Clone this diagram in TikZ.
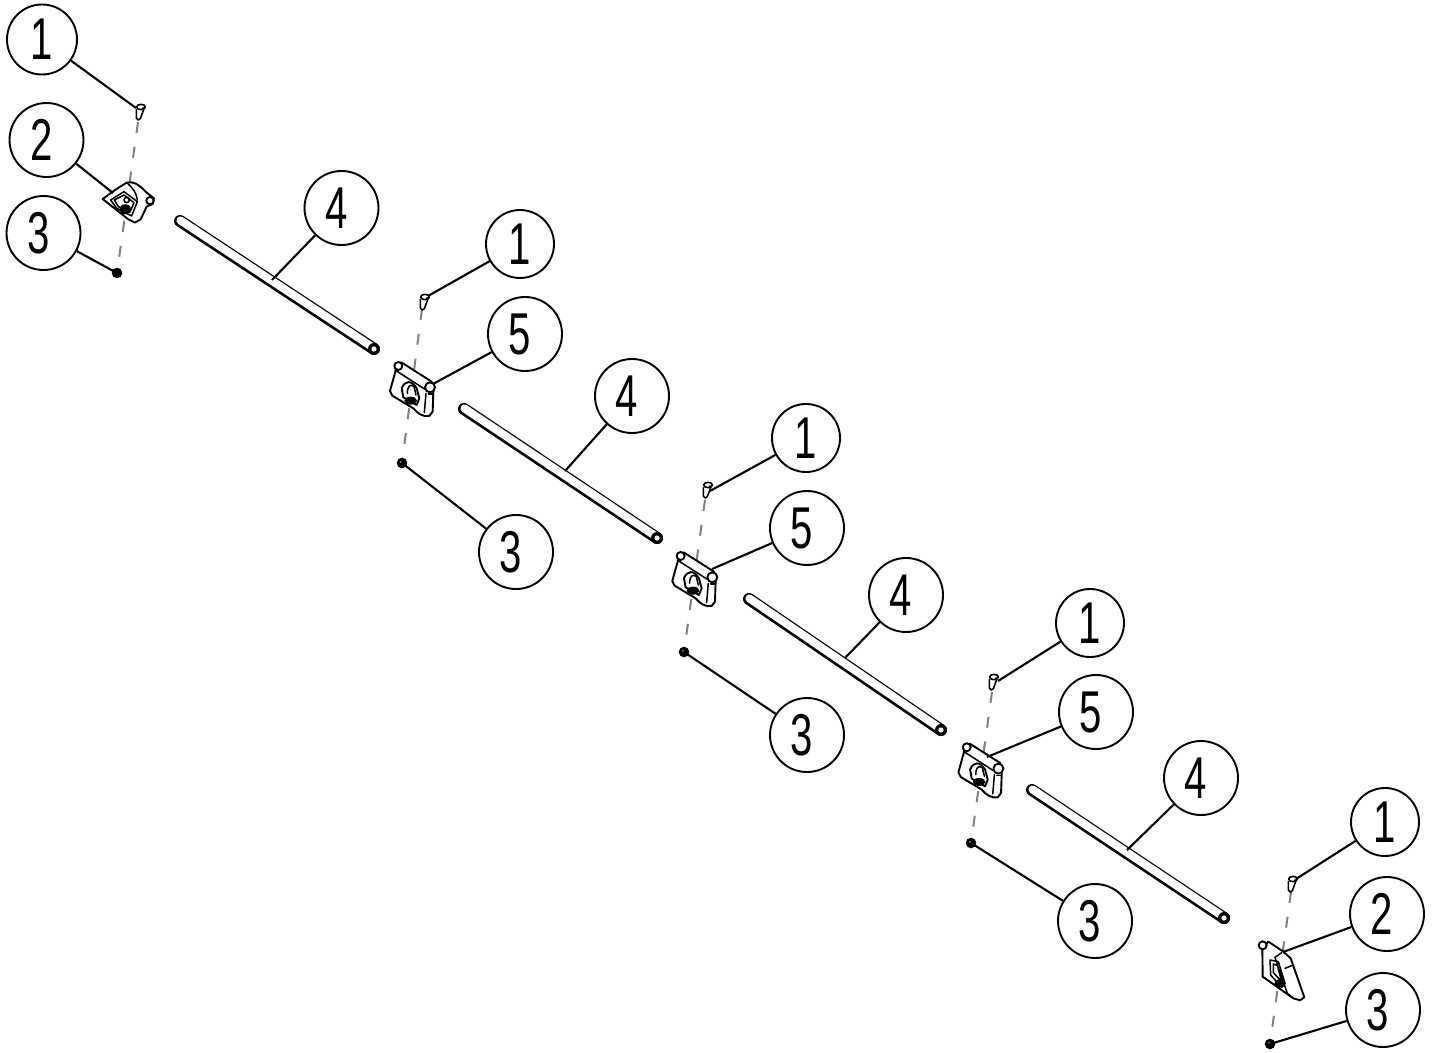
\documentclass[tikz,border=0pt]{standalone}
\usepackage{fontspec}
\setmainfont{Liberation Sans}
\tikzset{
  x=1pt,y=-1pt,
  balloon/.style={draw=black,line width=1.9pt,circle,fill=white,inner sep=0pt,minimum size=74pt,
    font=\fontsize{59}{59}\selectfont},
  leader/.style={draw=black,line width=2.1pt},
  axisline/.style={draw=black!50,line width=2pt,dash pattern=on 11pt off 14pt},
  partline/.style={draw=black,line width=1.9pt,line join=round,line cap=round,fill=white},
  thinpart/.style={draw=black,line width=1.5pt,line join=round,line cap=round},
  zoomed/.style={x=0.3333pt,y=-0.3333pt}
}
\newcommand{\dg}[1]{\raisebox{-2pt}{\scalebox{0.68}[1]{#1}}\kern 10pt}
\newcommand{\dgone}[1]{\raisebox{-2pt}{\scalebox{0.68}[1]{#1}}}
\newcommand{\rodpart}[2]{%
  \draw[line width=12pt,black,line cap=round] (#1) -- (#2);
  \draw[line width=8pt,white,line cap=round,transform canvas={xshift=0.4pt,yshift=0.6pt}] (#1) -- (#2);
  \fill[black] (#2) circle (6pt);
  \fill[white] (#2) circle (2.6pt);
}
\newcommand{\screwpart}[1]{%
  \begin{scope}[shift={(#1)},zoomed]
    \draw[partline,line width=1.6pt] (-14,8) -- (-14,33) .. controls (-12,41) and (-5,41) .. (-2,35) -- (8,8);
    \draw[partline,line width=1.6pt] (0,0) ellipse (13 and 8);
    \fill (6,4) circle (4);
  \end{scope}}
\newcommand{\nutpart}[1]{%
  \fill[black] (#1) circle (5.3pt);
  \fill[black!45] (#1) ++(-1.2,-1.2) circle (1pt);
}
\newcommand{\midbracket}[1]{%
  \begin{scope}[shift={(#1)},zoomed]
    \draw[partline] (108,268) -- (90,333) -- (97,347) -- (160,385) .. controls (172,400) and (190,412) .. (208,408) -- (218,395) -- (220,335) -- (215,305) -- (124,247) -- cycle;
    \draw[thinpart] (105,270) -- (195,328);
    \draw[thinpart] (198,340) -- (193,398);
    \draw[thinpart] (218,342) -- (205,342);
    \draw[partline] (125,325) .. controls (135,300) and (155,300) .. (170,325) -- (178,355) -- (170,375) -- (130,352) -- cycle;
    \draw[thinpart] (142,340) .. controls (142,318) and (152,310) .. (162,320) -- (168,345);
    \fill[black] (152,362) ellipse (19 and 12);
    \draw[partline] (115,258) circle (12);
    \draw[partline] (210,322) circle (15);
  \end{scope}}
\begin{document}
\begin{tikzpicture}
\useasboundingbox[fill=white] (0,0) rectangle (1434,1052);

% anchors of the leaders
\coordinate (sa) at (136,108); \coordinate (ba) at (113,193); \coordinate (na) at (117,273); \coordinate (ra) at (272,280);
\coordinate (sb) at (428,296); \coordinate (bb) at (433,384); \coordinate (nb) at (402,463); \coordinate (rb) at (565,471);
\coordinate (sc) at (710,491); \coordinate (bc) at (712,569); \coordinate (nc) at (684,652); \coordinate (rc) at (845,658);
\coordinate (sd) at (998,681); \coordinate (bd) at (987,757); \coordinate (nd) at (971,843); \coordinate (rd) at (1127,850);
\coordinate (se) at (1296,879); \coordinate (be) at (1283,952); \coordinate (ne) at (1270,1044);

% centre axes
\coordinate (ta) at (138,122); \coordinate (tb) at (422,309); \coordinate (tc) at (705,500);
\coordinate (td) at (992,692); \coordinate (te) at (1291,892);
\draw[axisline] (ta) -- (na);
\draw[axisline] (tb) -- (nb);
\draw[axisline] (tc) -- (nc);
\draw[axisline] (td) -- (nd);
\draw[axisline] (te) -- (ne);

% rods
\coordinate (r1a) at (180,221); \coordinate (r1b) at (374,349);
\coordinate (r2a) at (464,409); \coordinate (r2b) at (657,538);
\coordinate (r3a) at (749,599); \coordinate (r3b) at (941,730);
\coordinate (r4a) at (1032,790); \coordinate (r4b) at (1224,918);
\rodpart{r1a}{r1b}
\rodpart{r2a}{r2b}
\rodpart{r3a}{r3b}
\rodpart{r4a}{r4b}

% screws and nuts
\screwpart{141,107}
\screwpart{425,297}
\screwpart{708,485}
\screwpart{994,677}
\screwpart{1293,879}
\nutpart{na}
\nutpart{nb}
\nutpart{nc}
\nutpart{nd}
\nutpart{ne}

% end bracket, left
\begin{scope}[zoomed]
  \draw[partline] (308,597) -- (345,570) -- (380,548) .. controls (400,543) and (415,552) .. (440,578) -- (462,595) -- (458,612) -- (440,620) -- (422,658) -- (405,668) -- (385,658) -- cycle;
  \draw[thinpart] (332,600) -- (372,575) -- (412,605) -- (395,648) -- (350,625) -- cycle;
  \draw[thinpart] (343,600) -- (372,585) -- (402,608) -- (390,636) -- (355,620) -- cycle;
  \draw[thinpart] (380,548) .. controls (400,565) and (410,580) .. (412,600);
  \fill[black] (376,628) ellipse (18 and 15);
  \draw[thinpart] (380,600) circle (8);
  \draw[partline] (450,602) circle (11);
\end{scope}

% middle brackets
\midbracket{360,280}
\midbracket{642.3,470}
\midbracket{928.4,661.3}

% end bracket, right
\begin{scope}[shift={(1230,860)},zoomed]
  \draw[partline] (97,262) -- (98,350) -- (190,415) -- (210,421) -- (223,412) -- (182,295) -- (160,275) -- (115,245) -- cycle;
  \draw[thinpart] (135,292) -- (155,278);
  \draw[thinpart] (135,292) -- (172,400) -- (190,415);
  \draw[thinpart] (165,325) -- (190,315);
  \draw[thinpart] (120,300) -- (145,305) -- (165,370) -- (155,382) -- (122,345) -- cycle;
  \draw[thinpart] (130,312) -- (142,316) -- (155,365) -- (130,338) -- cycle;
  \fill[black] (150,370) ellipse (17 and 13);
  \draw[partline] (98,256) circle (12);
\end{scope}

% balloons
\node[balloon,minimum size=70pt] (a1) at (42,39.5) {\dgone{1}};
\node[balloon] (a2) at (46.5,140) {\dg{2}};
\node[balloon] (a3) at (43.5,233) {\dg{3}};
\node[balloon] (a4) at (341.5,208) {\dg{4}};
\node[balloon,minimum size=68pt] (b1) at (520,244) {\dgone{1}};
\node[balloon] (b5) at (525,334) {\dg{5}};
\node[balloon] (b3) at (516,552) {\dg{3}};
\node[balloon] (b4) at (632,396) {\dg{4}};
\node[balloon,minimum size=68pt] (c1) at (806,438) {\dgone{1}};
\node[balloon] (c5) at (807,528) {\dg{5}};
\node[balloon] (c3) at (807,735) {\dg{3}};
\node[balloon] (c4) at (906,595) {\dg{4}};
\node[balloon,minimum size=68pt] (d1) at (1090,623) {\dgone{1}};
\node[balloon] (d5) at (1096,712) {\dg{5}};
\node[balloon] (d3) at (1095,921) {\dg{3}};
\node[balloon] (d4) at (1201,778) {\dg{4}};
\node[balloon,minimum size=68pt] (e1) at (1385,822) {\dgone{1}};
\node[balloon] (e2) at (1387,914) {\dg{2}};
\node[balloon] (e3) at (1383,1010) {\dg{3}};

% leaders
\draw[leader] (a1) -- (sa);
\draw[leader] (a2) -- (ba);
\draw[leader] (a3) -- (na);
\draw[leader] (a4) -- (ra);
\draw[leader] (b1) -- (sb);
\draw[leader] (b5) -- (bb);
\draw[leader] (b3) -- (nb);
\draw[leader] (b4) -- (rb);
\draw[leader] (c1) -- (sc);
\draw[leader] (c5) -- (bc);
\draw[leader] (c3) -- (nc);
\draw[leader] (c4) -- (rc);
\draw[leader] (d1) -- (sd);
\draw[leader] (d5) -- (bd);
\draw[leader] (d3) -- (nd);
\draw[leader] (d4) -- (rd);
\draw[leader] (e1) -- (se);
\draw[leader] (e2) -- (be);
\draw[leader] (e3) -- (ne);
\end{tikzpicture}
\end{document}
